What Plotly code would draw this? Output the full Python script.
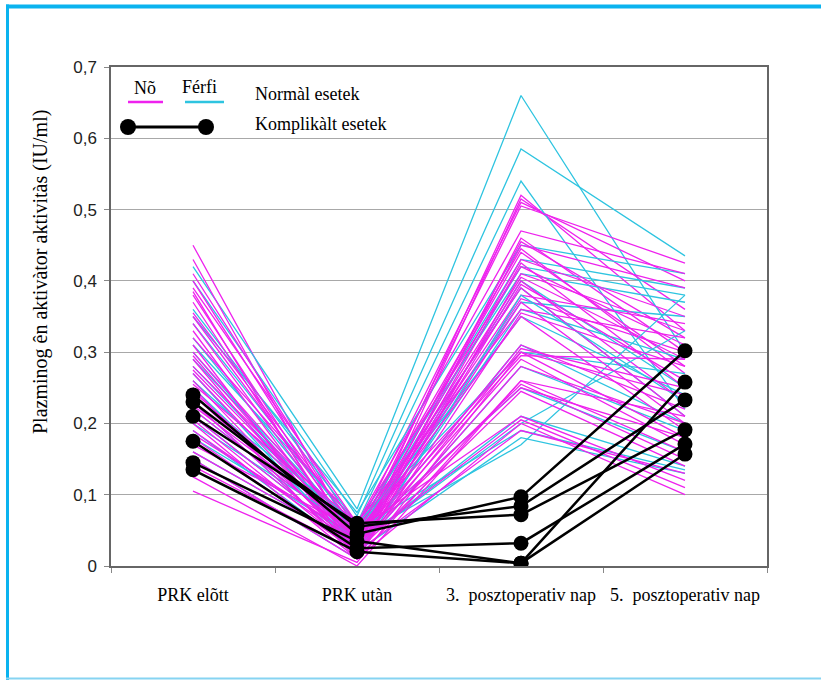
import plotly.graph_objects as go

# ---------------- data ----------------
categories = ["PRK elõtt", "PRK utàn", "3.  posztoperativ nap", "5.  posztoperativ nap"]

y_tickvals = [0, 0.1, 0.2, 0.3, 0.4, 0.5, 0.6, 0.7]
y_ticktext = ["0", "0,1", "0,2", "0,3", "0,4", "0,5", "0,6", "0,7"]

# Nõ (women) – normal cases
noe_elott = [0.45, 0.43, 0.41, 0.40, 0.39, 0.385, 0.38, 0.37, 0.355, 0.35,
             0.34, 0.33, 0.32, 0.31, 0.30, 0.295, 0.29, 0.28, 0.275, 0.27,
             0.26, 0.255, 0.25, 0.245, 0.24, 0.23, 0.225, 0.22, 0.21, 0.205,
             0.20, 0.19, 0.185, 0.18, 0.17, 0.16, 0.15, 0.14, 0.125, 0.105]
noe_utan = [0.03, 0.02, 0.05, 0.04, 0.06, 0.01, 0.03, 0.02, 0.05, 0.04,
            0.03, 0.02, 0.06, 0.01, 0.04, 0.03, 0.02, 0.05, 0.04, 0.03,
            0.02, 0.06, 0.01, 0.04, 0.03, 0.02, 0.05, 0.04, 0.03, 0.02,
            0.01, 0.03, 0.04, 0.02, 0.05, 0.03, 0.01, 0.02, 0.00, 0.005]
noe_nap3 = [0.52, 0.515, 0.51, 0.505, 0.47, 0.46, 0.455, 0.45, 0.445, 0.44,
            0.43, 0.425, 0.42, 0.41, 0.405, 0.40, 0.395, 0.39, 0.38, 0.375,
            0.37, 0.36, 0.355, 0.35, 0.31, 0.305, 0.30, 0.295, 0.29, 0.28,
            0.26, 0.255, 0.25, 0.245, 0.21, 0.205, 0.20, 0.19, 0.26, 0.30]
noe_nap5 = [0.33, 0.36, 0.40, 0.425, 0.41, 0.30, 0.32, 0.39, 0.27, 0.28,
            0.35, 0.25, 0.31, 0.33, 0.29, 0.23, 0.26, 0.21, 0.34, 0.30,
            0.20, 0.32, 0.28, 0.19, 0.22, 0.25, 0.18, 0.29, 0.17, 0.20,
            0.16, 0.15, 0.18, 0.14, 0.12, 0.11, 0.10, 0.13, 0.21, 0.24]

# Férfi (men) – normal cases
ferfi_elott = [0.42, 0.40, 0.36, 0.35, 0.34, 0.32, 0.31, 0.30, 0.29, 0.28, 0.27,
               0.26, 0.25, 0.24, 0.23, 0.22, 0.21, 0.20, 0.19, 0.18, 0.16, 0.15]
ferfi_utan = [0.08, 0.07, 0.06, 0.075, 0.05, 0.04, 0.06, 0.03, 0.05, 0.04, 0.02,
              0.05, 0.03, 0.06, 0.02, 0.04, 0.03, 0.05, 0.02, 0.04, 0.03, 0.01]
ferfi_nap3 = [0.66, 0.585, 0.54, 0.45, 0.43, 0.42, 0.41, 0.40, 0.39, 0.37, 0.36,
              0.35, 0.31, 0.30, 0.28, 0.25, 0.21, 0.19, 0.18, 0.17, 0.20, 0.38]
ferfi_nap5 = [0.30, 0.435, 0.22, 0.41, 0.39, 0.38, 0.37, 0.25, 0.21, 0.35, 0.29,
              0.24, 0.20, 0.27, 0.19, 0.16, 0.14, 0.135, 0.13, 0.38, 0.33, 0.23]

# Komplikált esetek (complicated cases)
kompl_elott = [0.24, 0.23, 0.21, 0.175, 0.145, 0.135]
kompl_utan = [0.045, 0.055, 0.06, 0.025, 0.035, 0.02]
kompl_nap3 = [0.097, 0.084, 0.072, 0.032, 0.004, 0.004]
kompl_nap5 = [0.302, 0.233, 0.191, 0.171, 0.258, 0.157]

legend_labels = ["Nõ", "Férfi", "Normàl esetek", "Komplikàlt esetek"]
y_title = "Plazminog ên aktivàtor aktivitàs (IU/ml)"

# ---------------- styling ----------------
MAGENTA = "#ee22ee"
CYAN = "#2ec4e0"
SERIF = "Liberation Serif, Times New Roman, serif"
SANS = "Liberation Sans, Arial, sans-serif"

W, H = 821, 680
L, R, T, B = 111, 767, 67, 566   # plot area in pixels


def px_x(p):
    return (p - L) / (R - L)


def px_y(p):
    return (B - p) / (B - T)


fig = go.Figure()

noe_rows = list(zip(noe_elott, noe_utan, noe_nap3, noe_nap5))
ferfi_rows = list(zip(ferfi_elott, ferfi_utan, ferfi_nap3, ferfi_nap5))
n = max(len(noe_rows), len(ferfi_rows))
for i in range(n):
    if i < len(noe_rows):
        fig.add_trace(go.Scatter(x=categories, y=list(noe_rows[i]), mode="lines",
                                 line=dict(color=MAGENTA, width=1.3),
                                 showlegend=False, hoverinfo="skip"))
    if i < len(ferfi_rows):
        fig.add_trace(go.Scatter(x=categories, y=list(ferfi_rows[i]), mode="lines",
                                 line=dict(color=CYAN, width=1.3),
                                 showlegend=False, hoverinfo="skip"))

for row in zip(kompl_elott, kompl_utan, kompl_nap3, kompl_nap5):
    fig.add_trace(go.Scatter(x=categories, y=list(row), mode="lines+markers",
                             line=dict(color="black", width=2.5),
                             marker=dict(color="black", size=15),
                             showlegend=False, hoverinfo="skip"))

# ---------------- legend (drawn) ----------------
shapes = []
annotations = []
shapes.append(dict(type="line", xref="paper", yref="paper",
                   x0=px_x(128), x1=px_x(163), y0=px_y(102), y1=px_y(102),
                   line=dict(color=MAGENTA, width=2.5)))
shapes.append(dict(type="line", xref="paper", yref="paper",
                   x0=px_x(185), x1=px_x(224), y0=px_y(102), y1=px_y(102),
                   line=dict(color=CYAN, width=2.5)))
shapes.append(dict(type="line", xref="paper", yref="paper",
                   x0=px_x(128), x1=px_x(206), y0=px_y(127), y1=px_y(127),
                   line=dict(color="black", width=3)))
for cx in (128, 206):
    shapes.append(dict(type="circle", xref="paper", yref="paper",
                       x0=px_x(cx - 8), x1=px_x(cx + 8),
                       y0=px_y(127 + 8), y1=px_y(127 - 8),
                       fillcolor="black", line=dict(color="black", width=0)))


def label(text, xp, yp, xanchor="center", size=18, angle=0):
    return dict(text=text, xref="paper", yref="paper", x=px_x(xp), y=px_y(yp),
                xanchor=xanchor, yanchor="middle", textangle=angle,
                showarrow=False, font=dict(family=SERIF, size=size, color="black"))


annotations.append(label(legend_labels[0], 145, 88))
annotations.append(label(legend_labels[1], 199, 87))
annotations.append(label(legend_labels[2], 253, 94, xanchor="left"))
annotations.append(label(legend_labels[3], 253, 124, xanchor="left"))
annotations.append(label(y_title, 40, 272, size=20, angle=-90))

# blue frame around the picture
FRAME = "#0ab3ef"
shapes.append(dict(type="line", xref="paper", yref="paper",
                   x0=px_x(6), x1=px_x(821), y0=px_y(6.5), y1=px_y(6.5),
                   line=dict(color=FRAME, width=4)))
shapes.append(dict(type="line", xref="paper", yref="paper",
                   x0=px_x(7.5), x1=px_x(7.5), y0=px_y(4.5), y1=px_y(680),
                   line=dict(color=FRAME, width=3)))
shapes.append(dict(type="line", xref="paper", yref="paper",
                   x0=px_x(6), x1=px_x(821), y0=px_y(678.5), y1=px_y(678.5),
                   line=dict(color="#86d4f2", width=2)))

fig.update_layout(
    width=W, height=H,
    margin=dict(l=L, r=W - R, t=T, b=H - B),
    paper_bgcolor="white", plot_bgcolor="white",
    showlegend=False,
    shapes=shapes, annotations=annotations,
    xaxis=dict(type="category", categoryorder="array", categoryarray=categories,
               range=[-0.5, 3.5],
               showline=True, linecolor="#666666", linewidth=1.5, mirror=True,
               showgrid=False, ticks="outside", tickson="boundaries",
               ticklen=5, tickcolor="#888888", ticklabelstandoff=12,
               tickfont=dict(family=SERIF, size=18, color="black")),
    yaxis=dict(range=[0, 0.7], tickvals=y_tickvals, ticktext=y_ticktext,
               showline=True, linecolor="#666666", linewidth=1.5, mirror=True,
               showgrid=True, gridcolor="#a8a8a8", gridwidth=1,
               zeroline=False, ticks="outside", ticklen=5, tickcolor="#888888",
               ticklabelstandoff=4,
               tickfont=dict(family=SANS, size=17, color="#222222")),
)

fig.write_html("out.html", config={"displayModeBar": False},
               post_script="document.body.style.margin='0';document.body.style.padding='0';")
